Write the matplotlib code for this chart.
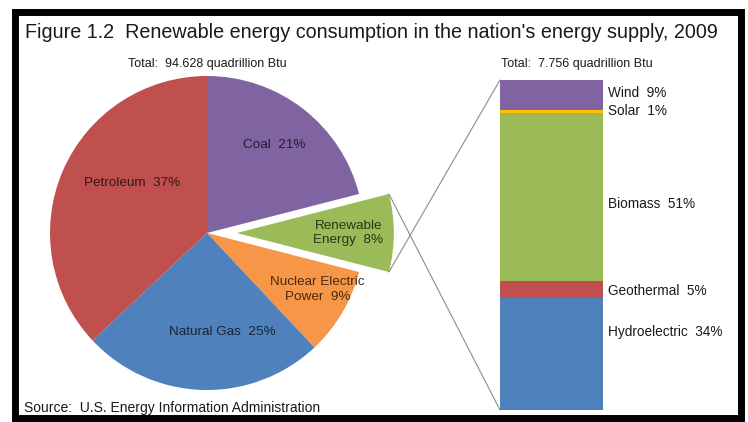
import numpy as np
import matplotlib
matplotlib.use("Agg")
import matplotlib.pyplot as plt
from matplotlib.colors import to_rgb
from matplotlib.patches import Rectangle, ConnectionPatch

plt.rcParams["font.family"] = ["Liberation Sans", "DejaVu Sans"]

# energy supply shares, clockwise from 12 o'clock
sources = ["Coal", "Renewable\nEnergy", "Nuclear Electric\nPower", "Natural Gas", "Petroleum"]
shares = [21, 8, 9, 25, 37]
source_colors = ["#8064A2", "#9BBB59", "#F79646", "#4F81BD", "#C0504D"]

# renewable breakdown, bottom to top
renewables = ["Hydroelectric", "Geothermal", "Biomass", "Solar", "Wind"]
renew_shares = [34, 5, 51, 1, 9]
renew_colors = ["#4F81BD", "#C0504D", "#9BBB59", "#FFC000", "#8064A2"]

total_all = "Total:  94.628 quadrillion Btu"
total_renew = "Total:  7.756 quadrillion Btu"

W, H = 748, 422
fig = plt.figure(figsize=(W / 100, H / 100), dpi=100)

def px_box(x0, y0, x1, y1):
    # pixel box (top-left origin) -> figure fraction rect
    return [x0 / W, 1 - y1 / H, (x1 - x0) / W, (y1 - y0) / H]

# pie
cx, cy, r = 207, 233, 157
half = 200
ax = fig.add_axes(px_box(cx - half, cy - half, cx + half, cy + half))
explode = [0, 0.19, 0, 0, 0]
wedges, _ = ax.pie(shares, colors=source_colors, startangle=90, counterclock=False,
                   explode=explode, radius=1, wedgeprops=dict(linewidth=0))
lim = half / r
ax.set_xlim(-lim, lim)
ax.set_ylim(-lim, lim)
ax.set_aspect("equal")
ax.axis("off")

label_r = [0.705, 0.71, 0.79, 0.64, 0.575]
label_da = [0.5, 0, 3.5, 10.5, -10.3]
for w, name, pct, col, lr, da in zip(wedges, sources, shares, source_colors, label_r, label_da):
    mid = np.deg2rad((w.theta1 + w.theta2) / 2 + da)
    x0, y0 = w.center
    dark = tuple(0.28 * c for c in to_rgb(col))
    ax.text(x0 + lr * np.cos(mid), y0 + lr * np.sin(mid), f"{name}  {pct}%",
            ha="center", va="center", fontsize=9.7, color=dark, linespacing=1.25)

ax.text(0, 1.076, total_all, ha="center", va="center", fontsize=9, color="#1a1a1a")

# stacked bar
bx = fig.add_axes(px_box(500, 80, 603, 410))
bottom = 0
mids = []
for name, val, col in zip(renewables, renew_shares, renew_colors):
    bx.bar(0.5, val, width=1, bottom=bottom, color=col, linewidth=0)
    mids.append(bottom + val / 2)
    bottom += val
bx.set_xlim(0, 1)
bx.set_ylim(0, 100)
bx.axis("off")

nudge = [6.5, -0.5, -2, 0, 0.5]
for name, val, m, dy in zip(renewables, renew_shares, mids, nudge):
    bx.text(1.05, m + dy, f"{name}  {val}%", ha="left", va="center",
            fontsize=9.8, color="#1a1a1a")
bx.text(0.75, 104.8, total_renew, ha="center", va="center", fontsize=9, color="#1a1a1a")

# connector lines from the renewable wedge to the bar
ren = wedges[1]
ex, ey = ren.center
for ang, yb in [(ren.theta1, 100), (ren.theta2, 0)]:
    a = np.deg2rad(ang)
    con = ConnectionPatch(xyA=(ex + np.cos(a), ey + np.sin(a)), coordsA=ax.transData,
                          xyB=(0, yb), coordsB=bx.transData,
                          color="#8c8c8c", linewidth=0.8)
    fig.add_artist(con)

fig.text(25 / W, 1 - 33 / H, "Figure 1.2  Renewable energy consumption in the nation's energy supply, 2009",
         ha="left", va="center", fontsize=14.2, color="#1a1a1a")
fig.text(24 / W, 1 - 408 / H, "Source:  U.S. Energy Information Administration",
         ha="left", va="center", fontsize=10, color="#1a1a1a")

# black frame
fig.add_artist(Rectangle((14.5 / W, 1 - 417.5 / H), 726.5 / W, 406 / H,
                         transform=fig.transFigure, fill=False,
                         edgecolor="black", linewidth=5))

fig.savefig("out.png", dpi=100)
